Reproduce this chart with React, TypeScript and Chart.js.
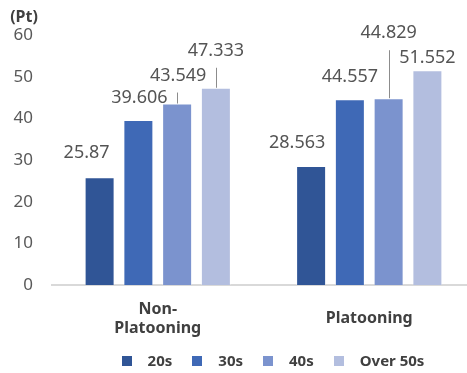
import { useEffect, useRef } from "react";
import { Chart, registerables } from "chart.js";

Chart.register(...registerables);

// Chart data
const categories: (string | string[])[] = [["Non-", "Platooning"], "Platooning"];
const seriesNames = ["20s", "30s", "40s", "Over 50s"];
const values20s = [25.87, 28.563];
const values30s = [39.606, 44.557];
const values40s = [43.549, 44.829];
const valuesOver50s = [47.333, 51.552];
const yTickValues = [0, 10, 20, 30, 40, 50, 60];
const unitLabel = "(Pt)";

// Styling
const seriesColors = ["#305596", "#3F69B6", "#7B93CE", "#B3BEDF"];
const FONT = "'Noto Sans', 'DejaVu Sans', sans-serif";

// Value label placement relative to the top centre of each bar: [dx, dy, leaderLine]
const labelPlacement: [number, number, boolean][][] = [
  [[-13, -24, false], [-14, -23, false]],
  [[1, -22, false], [0, -22, false]],
  [[1, -28, true], [0, -65, true]],
  [[0, -37, true], [0, -12, false]],
];

const valueLabelPlugin = {
  id: "valueLabels",
  afterDatasetsDraw(chart: any) {
    const ctx = chart.ctx as CanvasRenderingContext2D;
    ctx.save();
    chart.data.datasets.forEach((ds: any, di: number) => {
      const meta = chart.getDatasetMeta(di);
      meta.data.forEach((bar: any, i: number) => {
        const [dx, dy, leader] = labelPlacement[di][i];
        const x = bar.x;
        const y = bar.y;
        if (leader) {
          ctx.strokeStyle = "#8c8c8c";
          ctx.lineWidth = 1;
          ctx.beginPath();
          ctx.moveTo(Math.round(x) + 0.5, y + dy + 17);
          ctx.lineTo(Math.round(x) + 0.5, y);
          ctx.stroke();
        }
        ctx.fillStyle = "#545454";
        ctx.font = `18px ${FONT}`;
        ctx.textAlign = "center";
        ctx.textBaseline = "middle";
        ctx.fillText(String(ds.data[i]), x + dx, y + dy);
      });
    });
    ctx.restore();
  },
};

const legendAndUnitPlugin = {
  id: "legendAndUnit",
  afterDraw(chart: any) {
    const ctx = chart.ctx as CanvasRenderingContext2D;
    ctx.save();
    // unit label
    ctx.font = `bold 16px ${FONT}`;
    ctx.fillStyle = "#404040";
    ctx.textAlign = "center";
    ctx.textBaseline = "middle";
    ctx.fillText(unitLabel, 24, 17);

    // legend
    const box = 10;
    const gap = 16;
    const spacing = 20;
    ctx.font = `bold 15px ${FONT}`;
    const widths = seriesNames.map((n) => ctx.measureText(n).width);
    const total =
      widths.reduce((s, w) => s + box + gap + w, 0) + spacing * (seriesNames.length - 1);
    let x = 273 - total / 2;
    const cy = 361;
    ctx.textAlign = "left";
    seriesNames.forEach((name, i) => {
      ctx.fillStyle = seriesColors[i];
      ctx.fillRect(Math.round(x), cy - box / 2, box, box);
      ctx.fillStyle = "#404040";
      ctx.fillText(name, x + box + gap, cy + 1);
      x += box + gap + widths[i] + spacing;
    });
    ctx.restore();
  },
};

export default function App() {
  const canvasRef = useRef<HTMLCanvasElement | null>(null);

  useEffect(() => {
    const canvas = canvasRef.current;
    if (!canvas) return;
    const seriesValues = [values20s, values30s, values40s, valuesOver50s];
    const chart = new Chart(canvas, {
      type: "bar",
      data: {
        labels: categories as any,
        datasets: seriesNames.map((name, i) => ({
          label: name,
          data: seriesValues[i],
          backgroundColor: seriesColors[i],
          borderColor: "rgba(255,255,255,0.3)",
          borderWidth: 1,
          categoryPercentage: 0.733,
          barPercentage: 0.774,
        })),
      },
      options: {
        responsive: false,
        animation: false,
        devicePixelRatio: 1,
        layout: { padding: { top: 35, left: 0, right: 0, bottom: 0 } },
        plugins: {
          legend: { display: false },
          tooltip: { enabled: false },
          title: { display: false },
        },
        scales: {
          x: {
            grid: { display: false },
            border: { display: true, color: "#d9d9d9", width: 2 },
            ticks: {
              color: "#404040",
              font: { family: FONT, size: 16, weight: "bold", lineHeight: 1.2 },
              padding: 16,
              crossAlign: "center",
              maxRotation: 0,
              autoSkip: false,
            },
            afterFit(scale: any) {
              scale.height = 88;
            },
          },
          y: {
            min: 0,
            max: 60,
            grid: { display: false, drawTicks: false },
            border: { display: false },
            afterBuildTicks(scale: any) {
              scale.ticks = yTickValues.map((v) => ({ value: v }));
            },
            ticks: {
              color: "#595959",
              font: { family: FONT, size: 17 },
              padding: 19,
            },
            afterFit(scale: any) {
              scale.width = 52;
            },
          },
        },
      },
      plugins: [valueLabelPlugin, legendAndUnitPlugin],
    });
    return () => chart.destroy();
  }, []);

  return (
    <div
      style={{
        position: "fixed",
        left: 0,
        top: 0,
        width: 467,
        height: 373,
        overflow: "hidden",
        background: "#ffffff",
      }}
    >
      <canvas ref={canvasRef} width={475} height={373} style={{ display: "block" }} />
    </div>
  );
}
